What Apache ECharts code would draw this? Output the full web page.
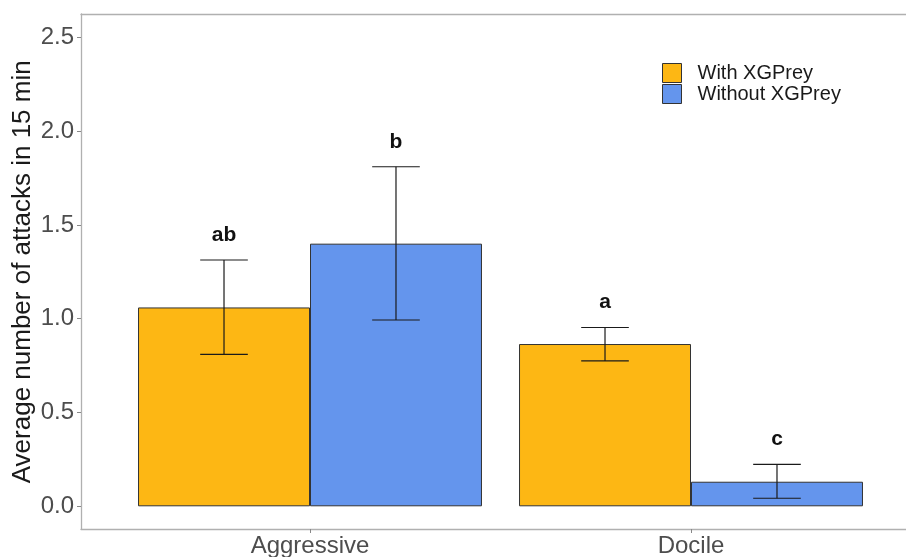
<!DOCTYPE html>
<html>
<head>
<meta charset="utf-8">
<script src="https://cdn.jsdelivr.net/npm/echarts@6/dist/echarts.min.js"></script>
<style>html,body{margin:0;padding:0;background:#fff;}#c{width:906px;height:557px;}</style>
</head>
<body>
<div id="c"></div>
<script>
// ---- data ----
var categories = ['Aggressive', 'Docile'];
var seriesNames = ['With XGPrey', 'Without XGPrey'];
var withMean = [1.06, 0.865];
var withLower = [0.81, 0.775];
var withUpper = [1.313, 0.953];
var withLetters = ['ab', 'a'];
var withoutMean = [1.40, 0.131];
var withoutLower = [0.993, 0.043];
var withoutUpper = [1.81, 0.224];
var withoutLetters = ['b', 'c'];
var yTicks = [0, 0.5, 1.0, 1.5, 2.0, 2.5];

var FONT = '"Liberation Sans", Arial, sans-serif';
var chart = echarts.init(document.getElementById('c'), null, {renderer: 'canvas'});

function errData(lower, upper, letters) {
  return categories.map(function (c, i) { return [i, lower[i], upper[i], letters[i]]; });
}
function errSeries(name, lower, upper, letters, side) {
  return {
    type: 'custom',
    name: name + ' err',
    xAxisIndex: 1, yAxisIndex: 1,
    silent: true,
    z: 5,
    data: errData(lower, upper, letters),
    renderItem: function (params, api) {
      var band = api.size([1, 0])[0];
      var cx = api.coord([api.value(0), 0])[0] + side * band * 0.2257;
      var yl = api.coord([api.value(0), api.value(1)])[1];
      var yu = api.coord([api.value(0), api.value(2)])[1];
      var hw = band * 0.0625;
      var st = {stroke: '#1a1a1a', lineWidth: 1.2};
      return {
        type: 'group',
        children: [
          {type: 'line', shape: {x1: cx, y1: yl, x2: cx, y2: yu}, style: st},
          {type: 'line', shape: {x1: cx - hw, y1: yl, x2: cx + hw, y2: yl}, style: st},
          {type: 'line', shape: {x1: cx - hw, y1: yu, x2: cx + hw, y2: yu}, style: st},
          {type: 'text', style: {text: letters[params.dataIndex], x: cx, y: yu - 25,
            textAlign: 'center', textVerticalAlign: 'middle',
            font: 'bold 21px ' + FONT, fill: '#111'}}
        ]
      };
    }
  };
}

var borderLine = {show: true, lineStyle: {color: '#b0b0b0', width: 1.3}};
var option = {
  animation: false,
  backgroundColor: '#fff',
  grid: [
    {left: 81, top: 14, width: 839, bottom: 28, outerBoundsMode: 'none', containLabel: false},
    {left: 119.5, width: 762, top: 37.3, bottom: 50.7, outerBoundsMode: 'none', containLabel: false},
    {left: 119.5, width: 762, top: 14, bottom: 28, outerBoundsMode: 'none', containLabel: false}
  ],
  xAxis: [
    {gridIndex: 0, type: 'value', min: 0, max: 1, position: 'bottom',
      axisLine: borderLine, axisTick: {show: false}, axisLabel: {show: false}, splitLine: {show: false}},
    {gridIndex: 1, type: 'category', data: categories, offset: 22.7,
      axisLine: {show: false},
      axisTick: {show: false},
      axisLabel: {fontSize: 24, color: '#4d4d4d', fontFamily: FONT, margin: 5}},
    {gridIndex: 0, type: 'value', min: 0, max: 1, position: 'top',
      axisLine: borderLine, axisTick: {show: false}, axisLabel: {show: false}, splitLine: {show: false}},
    {gridIndex: 2, type: 'category', data: categories, position: 'bottom',
      axisLine: {show: false},
      axisTick: {show: true, alignWithLabel: true, length: 4, lineStyle: {color: '#888'}},
      axisLabel: {show: false}, splitLine: {show: false}}
  ],
  yAxis: [
    {gridIndex: 0, type: 'value', min: 0, max: 1, position: 'left',
      axisLine: borderLine, axisTick: {show: false}, axisLabel: {show: false}, splitLine: {show: false}},
    {gridIndex: 1, type: 'value', min: 0, max: 2.5, interval: 0.5, offset: 38.5,
      axisLine: {show: false},
      axisTick: {show: true, length: 4, lineStyle: {color: '#888'}},
      splitLine: {show: false},
      axisLabel: {fontSize: 24, color: '#4d4d4d', fontFamily: FONT, margin: 7,
        formatter: function (v) { return yTicks.indexOf(v) >= 0 ? v.toFixed(1) : ''; }},
      name: 'Average number of attacks in 15 min', nameLocation: 'middle', nameGap: 45,
      nameMoveOverlap: false,
      nameTextStyle: {fontSize: 26, color: '#1a1a1a', fontFamily: FONT}},
    {gridIndex: 2, type: 'value', min: 0, max: 1, show: false}
  ],
  legend: {
    data: seriesNames, orient: 'vertical', left: 662, top: 63, padding: 0,
    icon: 'rect', itemWidth: 19, itemHeight: 19, itemGap: 1,
    itemStyle: {borderColor: '#333', borderWidth: 1},
    textStyle: {fontSize: 20, color: '#1a1a1a', fontFamily: FONT, padding: [0, 0, 0, 11]}
  },
  series: [
    {type: 'bar', name: seriesNames[0], xAxisIndex: 1, yAxisIndex: 1, data: withMean,
      barWidth: '45.14%', barGap: '0%',
      itemStyle: {color: '#FDB714', borderColor: '#333', borderWidth: 1}},
    {type: 'bar', name: seriesNames[1], xAxisIndex: 1, yAxisIndex: 1, data: withoutMean,
      barWidth: '45.14%', barGap: '0%',
      itemStyle: {color: '#6495ED', borderColor: '#333', borderWidth: 1}},
    errSeries(seriesNames[0], withLower, withUpper, withLetters, -1),
    errSeries(seriesNames[1], withoutLower, withoutUpper, withoutLetters, 1)
  ]
};
chart.setOption(option);
</script>
</body>
</html>
